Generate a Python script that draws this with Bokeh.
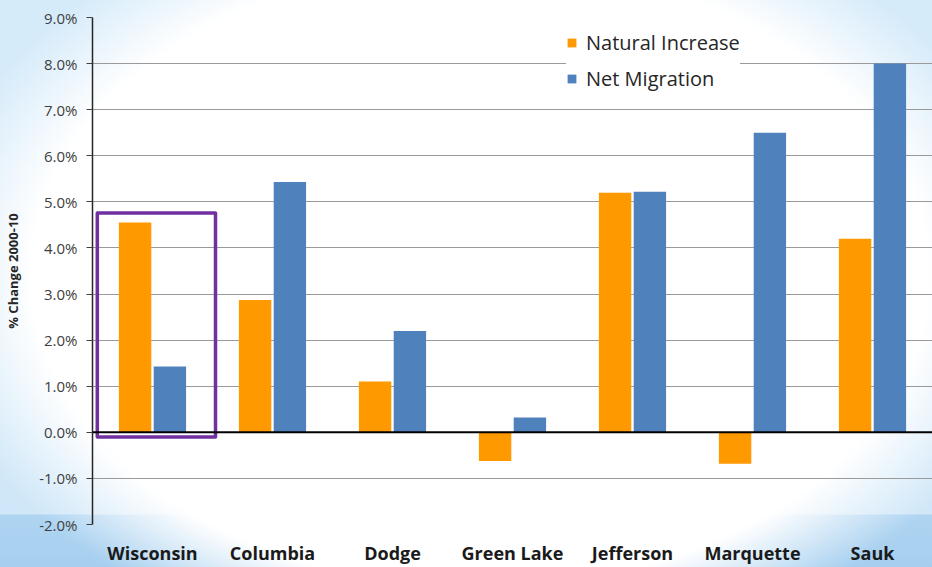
from bokeh.plotting import figure
from bokeh.models import (ColumnDataSource, FactorRange, Range1d, FixedTicker,
                          PrintfTickFormatter, Span, Legend, LegendItem)
from bokeh.transform import dodge
from bokeh.embed import file_html
from bokeh.resources import INLINE

# ---- data ----
counties = ["Wisconsin", "Columbia", "Dodge", "Green Lake", "Jefferson", "Marquette", "Sauk"]
natural_increase = [4.55, 2.87, 1.10, -0.62, 5.20, -0.68, 4.20]
net_migration = [1.43, 5.43, 2.20, 0.32, 5.22, 6.50, 8.00]
y_ticks = [-2, -1, 0, 1, 2, 3, 4, 5, 6, 7, 8, 9]
highlight = "Wisconsin"

ORANGE = "#FF9900"
BLUE = "#4F81BD"
PURPLE = "#7030A0"

src = ColumnDataSource(dict(cat=counties, ni=natural_increase, nm=net_migration))

W, H = 932, 567
p = figure(width=W, height=H, x_range=FactorRange(*counties), y_range=Range1d(-2, 9),
           output_backend="svg", toolbar_location=None,
           min_border_left=92, min_border_right=0, min_border_top=17, min_border_bottom=41)
p.outline_line_color = None
p.background_fill_alpha = 0
p.border_fill_alpha = 0
# soft white ellipse over a light-blue backdrop (page decoration)
p.styles = {
    "background": (
        "radial-gradient(ellipse 560px 390px at 480px 275px, #ffffff 0%, #ffffff 80%, "
        "rgba(255,255,255,0) 100%), "
        "linear-gradient(to bottom, #d6ebfa 0px, #cfe7f8 514px, #aed4f1 515px, #a6cfef 567px)"
    )
}

# ---- bars ----
r1 = p.vbar(x=dodge("cat", -0.145, range=p.x_range), top="ni", width=0.27, source=src,
            fill_color=ORANGE, line_color=None)
r2 = p.vbar(x=dodge("cat", 0.145, range=p.x_range), top="nm", width=0.27, source=src,
            fill_color=BLUE, line_color=None)

# zero line
p.add_layout(Span(location=0, dimension="width", line_color="black", line_width=2))

# highlight box around Wisconsin
hi = counties.index(highlight)
top_val = max(natural_increase[hi], net_migration[hi]) + 0.21
p.quad(left=[hi + 0.04], right=[hi + 1.025], bottom=[-0.1], top=[top_val],
       fill_color=None, line_color=PURPLE, line_width=3.5, line_join="round")

# ---- axes ----
p.yaxis.ticker = FixedTicker(ticks=y_ticks)
p.yaxis.formatter = PrintfTickFormatter(format="%.1f%%")
p.yaxis.axis_label = "% Change 2000-10"
p.yaxis.axis_label_text_font = "Open Sans"
p.yaxis.axis_label_text_font_style = "bold"
p.yaxis.axis_label_text_font_size = "13px"
p.yaxis.axis_label_text_color = "#262626"
p.yaxis.axis_label_standoff = 14
p.yaxis.major_label_text_font = "Open Sans"
p.yaxis.major_label_text_font_size = "15px"
p.yaxis.major_label_text_color = "#404040"
p.yaxis.major_tick_out = 6
p.yaxis.major_tick_in = 0
p.yaxis.major_label_standoff = 9
p.yaxis.minor_tick_line_color = None
p.yaxis.axis_line_color = "#262626"
p.yaxis.axis_line_width = 1.5
p.yaxis.major_tick_line_color = "#404040"

p.xaxis.axis_line_color = None
p.xaxis.major_tick_line_color = None
p.xaxis.major_tick_out = 0
p.xaxis.major_tick_in = 0
p.xaxis.major_label_standoff = 16
p.xaxis.major_label_text_line_height = 0.7
p.xaxis.major_label_text_font = "Open Sans"
p.xaxis.major_label_text_font_style = "bold"
p.xaxis.major_label_text_font_size = "18px"
p.xaxis.major_label_text_color = "#1a1a1a"

p.xgrid.grid_line_color = None
p.ygrid.ticker = FixedTicker(ticks=y_ticks)
p.ygrid.grid_line_color = "#9a9a9a"
p.ygrid.grid_line_width = 1

# ---- legend ----
legend = Legend(items=[LegendItem(label="Natural Increase", renderers=[r1]),
                       LegendItem(label="Net Migration", renderers=[r2])],
                location=(474, 432), orientation="vertical",
                glyph_width=11, glyph_height=11, label_height=24, spacing=9,
                padding=8, margin=0, label_standoff=9,
                label_text_font="Open Sans", label_text_font_size="20px",
                label_text_color="#262626",
                background_fill_color="white", background_fill_alpha=1.0,
                border_line_color=None)
p.add_layout(legend)

open("out.html", "w").write(file_html(p, INLINE))
